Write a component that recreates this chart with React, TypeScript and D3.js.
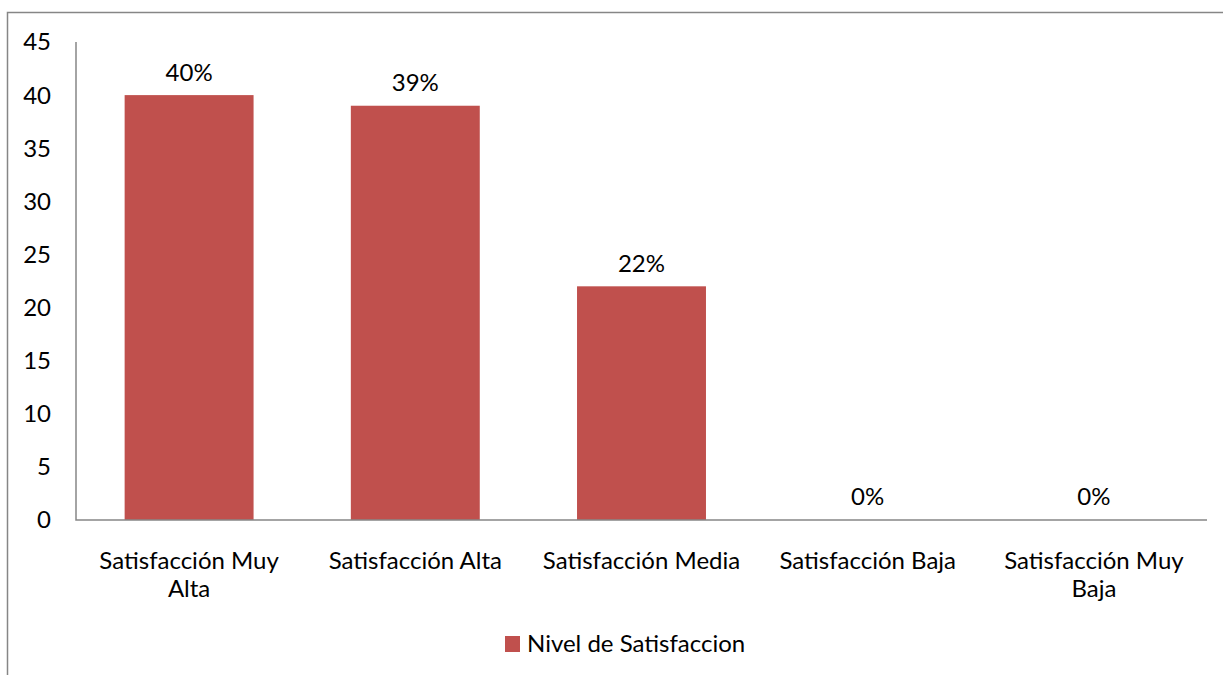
import React, { useEffect, useRef } from "react";
import * as d3 from "d3";

const categories = [
  ["Satisfacción Muy", "Alta"],
  ["Satisfacción Alta"],
  ["Satisfacción Media"],
  ["Satisfacción Baja"],
  ["Satisfacción Muy", "Baja"],
];
const values = [40, 39, 22, 0, 0];
const valueLabels = ["40%", "39%", "22%", "0%", "0%"];
const yTicks = [0, 5, 10, 15, 20, 25, 30, 35, 40, 45];
const seriesName = "Nivel de Satisfaccion";

const W = 1223;
const H = 675;
const FONT = "Lato, 'Open Sans', sans-serif";
const FS = 24;
const BAR = "#C0504D";

export default function App() {
  const ref = useRef<SVGSVGElement>(null);

  useEffect(() => {
    const svg = d3.select(ref.current);
    svg.selectAll("*").remove();

    const left = 76, right = 1207, top = 42, bottom = 520;

    const x = d3
      .scaleBand<number>()
      .domain(values.map((_, i) => i))
      .range([left, right])
      .paddingInner(0.43)
      .paddingOuter(0.215);
    const y = d3.scaleLinear().domain([0, 45]).range([bottom, top]);

    svg.append("rect").attr("width", W).attr("height", H).attr("fill", "white");

    // chart frame
    svg
      .append("path")
      .attr("d", `M7.5,${H + 2} V12.5 H${W + 2}`)
      .attr("fill", "none")
      .attr("stroke", "#868686")
      .attr("stroke-width", 1.5);

    // y labels
    svg
      .append("g")
      .selectAll("text")
      .data(yTicks)
      .join("text")
      .attr("x", 51)
      .attr("y", (d) => y(d))
      .attr("dy", "0.35em")
      .attr("text-anchor", "end")
      .attr("font-family", FONT)
      .attr("font-size", FS)
      .attr("fill", "#000")
      .text((d) => d);

    // bars
    svg
      .append("g")
      .selectAll("rect")
      .data(values)
      .join("rect")
      .attr("x", (_, i) => x(i)!)
      .attr("y", (d) => y(d))
      .attr("width", x.bandwidth())
      .attr("height", (d) => bottom - y(d))
      .attr("fill", BAR);

    // value labels
    svg
      .append("g")
      .selectAll("text")
      .data(values)
      .join("text")
      .attr("x", (_, i) => x(i)! + x.bandwidth() / 2)
      .attr("y", (d) => y(d) - 23)
      .attr("dy", "0.35em")
      .attr("text-anchor", "middle")
      .attr("font-family", FONT)
      .attr("font-size", FS)
      .attr("fill", "#000")
      .text((_, i) => valueLabels[i]);

    // axes lines
    svg
      .append("path")
      .attr("d", `M${left},${top} V${bottom} H${right}`)
      .attr("fill", "none")
      .attr("stroke", "#868686")
      .attr("stroke-width", 1.5);

    // category labels
    const cat = svg
      .append("g")
      .selectAll("text")
      .data(categories)
      .join("text")
      .attr("x", (_, i) => x(i)! + x.bandwidth() / 2)
      .attr("y", 561)
      .attr("text-anchor", "middle")
      .attr("font-family", FONT)
      .attr("font-size", FS)
      .attr("fill", "#000");
    cat
      .selectAll("tspan")
      .data((d) => d)
      .join("tspan")
      .attr("x", function () {
        return (this.parentNode as SVGTextElement).getAttribute("x");
      })
      .attr("dy", (_, j) => (j === 0 ? "0.35em" : 28))
      .text((d) => d);

    // legend
    svg
      .append("rect")
      .attr("x", 505)
      .attr("y", 636)
      .attr("width", 15)
      .attr("height", 16)
      .attr("fill", BAR);
    svg
      .append("text")
      .attr("x", 527)
      .attr("y", 644)
      .attr("dy", "0.35em")
      .attr("font-family", FONT)
      .attr("font-size", FS)
      .attr("fill", "#000")
      .text(seriesName);
  }, []);

  return (
    <div style={{ position: "absolute", left: 0, top: 0 }}>
      <svg ref={ref} width={W} height={H} style={{ display: "block" }} />
    </div>
  );
}
